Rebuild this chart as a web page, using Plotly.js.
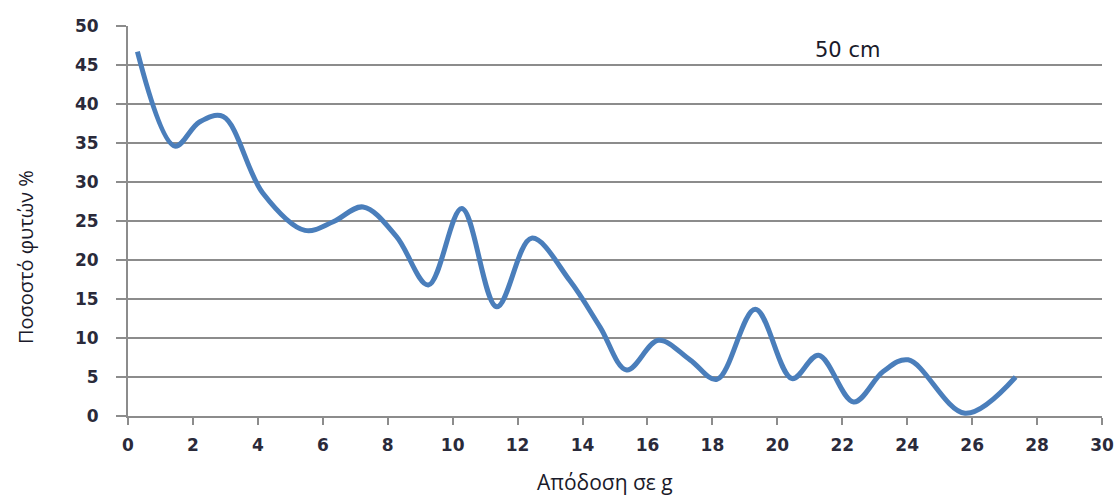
<!DOCTYPE html>
<html>
<head>
<meta charset="utf-8">
<script src="https://cdn.plot.ly/plotly-3.0.1.min.js"></script>
<style>html,body{margin:0;padding:0;background:#fff;}#chart{width:1119px;height:498px;}</style>
</head>
<body>
<div id="chart"></div>
<script>
const yieldG = [0.29, 1.44, 2.2, 2.93, 4.15, 5.45, 6.32, 7.24, 8.27, 9.25, 10.28, 11.36, 12.43, 13.6, 14.54, 15.36, 16.34, 17.31, 18.14, 19.32, 20.45, 21.27, 22.35, 23.26, 24.03, 25.78, 27.34];
const plantPct = [46.7, 34.6, 37.7, 38.4, 28.6, 23.8, 24.9, 26.8, 23.0, 16.8, 26.6, 14.0, 22.8, 17.4, 11.4, 5.9, 9.7, 7.2, 4.7, 13.7, 4.8, 7.8, 1.8, 5.7, 7.2, 0.35, 5.0];
const xTicks = [0,2,4,6,8,10,12,14,16,18,20,22,24,26,28,30];
const yTicks = [0,5,10,15,20,25,30,35,40,45,50];
const seriesLabel = "50 cm";

const tickFont = {family: "DejaVu Sans, Verdana, sans-serif", size: 17, weight: "bold", color: "#2a2a3a"};
const W = 1119, H = 498, L = 128, R = 17, T = 26, B = 82;
const pw = W - L - R, ph = H - T - B;
Plotly.newPlot("chart", [{
  x: yieldG, y: plantPct, type: "scatter", mode: "lines",
  line: {shape: "spline", smoothing: 1, color: "#4a7ebb", width: 5},
  hoverinfo: "skip"
}], {
  width: W, height: H,
  margin: {l: L, r: R, t: T, b: B},
  paper_bgcolor: "#fff", plot_bgcolor: "#fff",
  showlegend: false,
  font: {family: "DejaVu Sans, sans-serif", size: 17, color: "#1a1a2a"},
  xaxis: {
    range: [0, 30], tickvals: xTicks, ticktext: xTicks.map(String),
    showgrid: false, zeroline: false, showline: true, linecolor: "#8c8c8c", linewidth: 2,
    ticks: "outside", ticklen: 7, tickcolor: "#8c8c8c", tickwidth: 2,
    ticklabelstandoff: 6,
    tickfont: tickFont
  },
  yaxis: {
    range: [0, 50], tickvals: yTicks, ticktext: yTicks.map(String),
    showgrid: true, gridcolor: "#8c8c8c", gridwidth: 2, zeroline: false,
    showline: true, linecolor: "#8c8c8c", linewidth: 2,
    ticks: "outside", ticklen: 10, tickcolor: "#8c8c8c", tickwidth: 2,
    ticklabelstandoff: 14,
    tickfont: tickFont
  },
  annotations: [
    {x: 22.17, y: 46.9, xref: "x", yref: "y", text: seriesLabel, showarrow: false,
     font: {family: "DejaVu Sans, Verdana, sans-serif", size: 21, weight: "normal", color: "#1a1a2a"}},
    {x: (25 - L) / pw, y: (H - B - 257) / ph, xref: "paper", yref: "paper", text: "Ποσοστό φυτών %", showarrow: false, textangle: -90,
     xanchor: "center", yanchor: "middle",
     font: {family: "Open Sans, sans-serif", size: 20, weight: "normal", color: "#1a1a2a"}},
    {x: (605 - L) / pw, y: (H - B - 482) / ph, xref: "paper", yref: "paper", text: "Απόδοση σε g", showarrow: false,
     xanchor: "center", yanchor: "middle",
     font: {family: "Open Sans, sans-serif", size: 21, weight: "normal", color: "#1a1a2a"}}
  ]
}, {staticPlot: true});
</script>
</body>
</html>
